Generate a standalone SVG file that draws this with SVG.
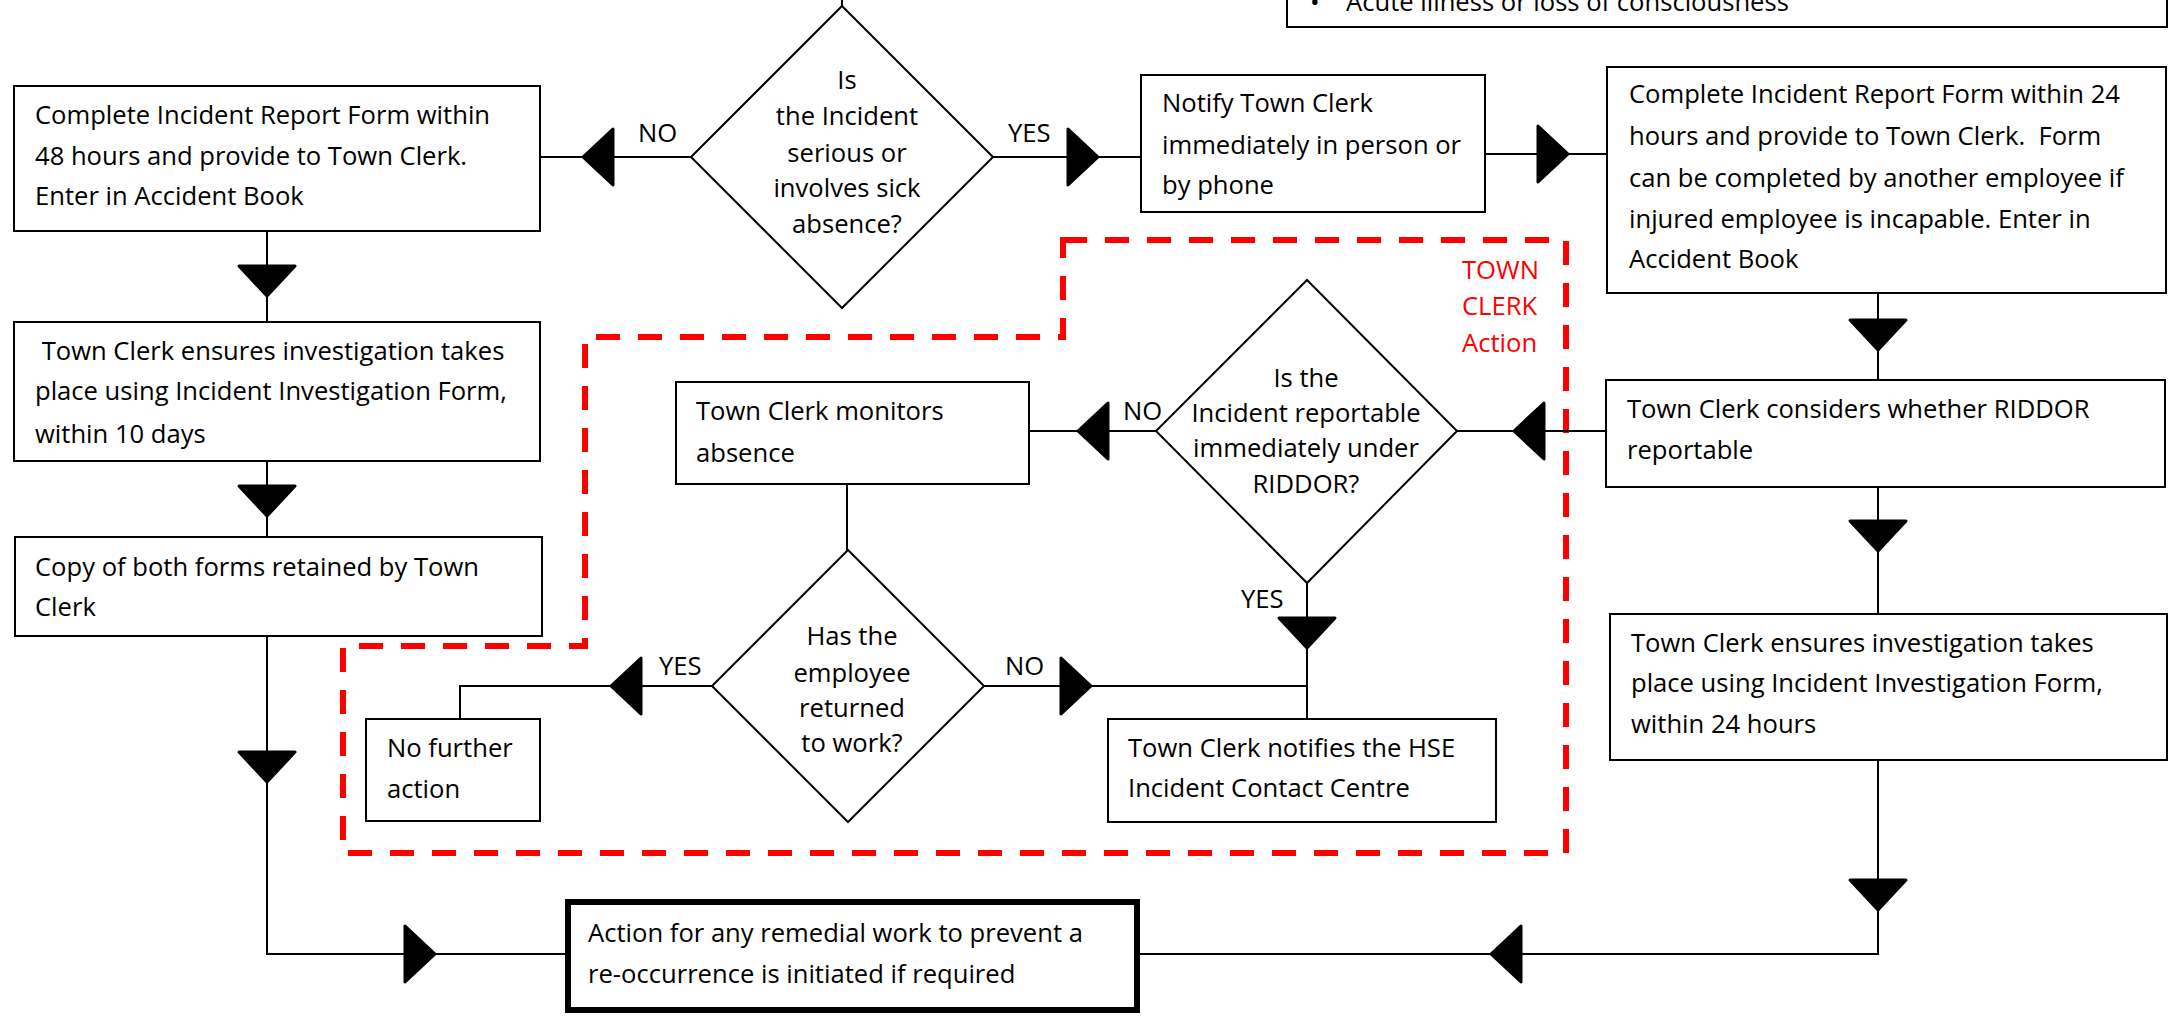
<svg xmlns="http://www.w3.org/2000/svg" xmlns:xlink="http://www.w3.org/1999/xlink" width="2179" height="1018" viewBox="0 0 2179 1018">
<style>
  .box { fill: #fff; stroke: #000; stroke-width: 2; }
  .dia { fill: #fff; stroke: #000; stroke-width: 2; }
  .thick { fill: #fff; stroke: #000; stroke-width: 6; }
  .line { fill: none; stroke: #000; stroke-width: 2; }
  .dash { fill: none; stroke: #FF0000; stroke-width: 6; stroke-dasharray: 24 18; }
  text { font-family: "Open Sans", "Noto Sans", "Liberation Sans", sans-serif; font-size: 25.6px; fill: #000; white-space: pre; }
  .c { text-anchor: middle; }
  .red { fill: #FF0000; }
</style>
<defs>
  <path id="ah" d="M0,0 L-30,-28 L-30,28 Z" fill="#000" stroke="#000" stroke-width="3" stroke-linejoin="round"/>
</defs>
<rect width="2179" height="1018" fill="#fff"/>

<g id="region">
  <path class="dash" d="M1063,240 H1566 V853 H343 V646 H585 V337 H1063 Z"/>
  <text class="red" x="1462" y="279">TOWN</text>
  <text class="red" x="1462" y="315">CLERK</text>
  <text class="red" x="1462" y="352">Action</text>
</g>

<g id="connectors">
  <path class="line" d="M842,0 V7"/>
  <path class="line" d="M691,157 H541"/>
  <path class="line" d="M993,157 H1141"/>
  <path class="line" d="M1485,154 H1607"/>
  <path class="line" d="M267,231 V322"/>
  <path class="line" d="M267,461 V537"/>
  <path class="line" d="M267,636 V954 H565"/>
  <path class="line" d="M1878,293 V380"/>
  <path class="line" d="M1878,487 V614"/>
  <path class="line" d="M1878,760 V954 H1140"/>
  <path class="line" d="M1606,431 H1457"/>
  <path class="line" d="M1156,431 H1029"/>
  <path class="line" d="M847,484 V550"/>
  <path class="line" d="M712,686 H460 V719"/>
  <path class="line" d="M984,686 H1307"/>
  <path class="line" d="M1307,583 V719"/>
  <use xlink:href="#ah" transform="translate(583,157) rotate(180)"/>
  <use xlink:href="#ah" transform="translate(1098,157)"/>
  <use xlink:href="#ah" transform="translate(1568,154)"/>
  <use xlink:href="#ah" transform="translate(1878,350) rotate(90)"/>
  <use xlink:href="#ah" transform="translate(1878,551) rotate(90)"/>
  <use xlink:href="#ah" transform="translate(1878,910) rotate(90)"/>
  <use xlink:href="#ah" transform="translate(1491,954) rotate(180)"/>
  <use xlink:href="#ah" transform="translate(1514,431) rotate(180)"/>
  <use xlink:href="#ah" transform="translate(1078,431) rotate(180)"/>
  <use xlink:href="#ah" transform="translate(1307,648) rotate(90)"/>
  <use xlink:href="#ah" transform="translate(1091,686)"/>
  <use xlink:href="#ah" transform="translate(611,686) rotate(180)"/>
  <use xlink:href="#ah" transform="translate(267,296) rotate(90)"/>
  <use xlink:href="#ah" transform="translate(267,516) rotate(90)"/>
  <use xlink:href="#ah" transform="translate(267,782) rotate(90)"/>
  <use xlink:href="#ah" transform="translate(435,954)"/>
  <text x="638" y="142">NO</text>
  <text x="1008" y="142">YES</text>
  <text x="1123" y="420">NO</text>
  <text x="1241" y="608">YES</text>
  <text x="659" y="675">YES</text>
  <text x="1005" y="675">NO</text>
</g>

<g id="n-bullet">
  <rect class="box" x="1287" y="-20" width="880" height="47"/>
  <text x="1310" y="11">•</text>
  <text x="1346" y="11">Acute illness or loss of consciousness</text>
</g>

<g id="n-report48">
  <rect class="box" x="14" y="86" width="526" height="145"/>
  <text x="35" y="124">Complete Incident Report Form within</text>
  <text x="35" y="165">48 hours and provide to Town Clerk.</text>
  <text x="35" y="205">Enter in Accident Book</text>
</g>

<g id="n-serious">
  <polygon class="dia" points="842,6 993,157 842,308 691,157"/>
  <text class="c" x="847" y="89">Is</text>
  <text class="c" x="847" y="125">the Incident</text>
  <text class="c" x="847" y="162">serious or</text>
  <text class="c" x="847" y="197">involves sick</text>
  <text class="c" x="847" y="233">absence?</text>
</g>

<g id="n-notify">
  <rect class="box" x="1141" y="75" width="344" height="137"/>
  <text x="1162" y="112">Notify Town Clerk</text>
  <text x="1162" y="154">immediately in person or</text>
  <text x="1162" y="194">by phone</text>
</g>

<g id="n-report24">
  <rect class="box" x="1607" y="67" width="559" height="226"/>
  <text x="1629" y="103">Complete Incident Report Form within 24</text>
  <text x="1629" y="145">hours and provide to Town Clerk.  Form</text>
  <text x="1629" y="187">can be completed by another employee if</text>
  <text x="1629" y="228">injured employee is incapable. Enter in</text>
  <text x="1629" y="268">Accident Book</text>
</g>

<g id="n-invest10">
  <rect class="box" x="14" y="322" width="526" height="139"/>
  <text x="35" y="360"> Town Clerk ensures investigation takes</text>
  <text x="35" y="400">place using Incident Investigation Form,</text>
  <text x="35" y="443">within 10 days</text>
</g>

<g id="n-copy">
  <rect class="box" x="15" y="537" width="527" height="99"/>
  <text x="35" y="576">Copy of both forms retained by Town</text>
  <text x="35" y="616">Clerk</text>
</g>

<g id="n-considers">
  <rect class="box" x="1606" y="380" width="559" height="107"/>
  <text x="1627" y="418">Town Clerk considers whether RIDDOR</text>
  <text x="1627" y="459">reportable</text>
</g>

<g id="n-riddor">
  <polygon class="dia" points="1307,280 1457,431 1307,583 1156,431"/>
  <text class="c" x="1306" y="387">Is the</text>
  <text class="c" x="1306" y="422">Incident reportable</text>
  <text class="c" x="1306" y="457">immediately under</text>
  <text class="c" x="1306" y="493">RIDDOR?</text>
</g>

<g id="n-monitors">
  <rect class="box" x="676" y="382" width="353" height="102"/>
  <text x="696" y="420">Town Clerk monitors</text>
  <text x="696" y="462">absence</text>
</g>

<g id="n-returned">
  <polygon class="dia" points="848,550 984,686 848,822 712,686"/>
  <text class="c" x="852" y="645">Has the</text>
  <text class="c" x="852" y="682">employee</text>
  <text class="c" x="852" y="717">returned</text>
  <text class="c" x="852" y="752">to work?</text>
</g>

<g id="n-nofurther">
  <rect class="box" x="366" y="719" width="174" height="102"/>
  <text x="387" y="757">No further</text>
  <text x="387" y="798">action</text>
</g>

<g id="n-hse">
  <rect class="box" x="1108" y="719" width="388" height="103"/>
  <text x="1128" y="757">Town Clerk notifies the HSE</text>
  <text x="1128" y="797">Incident Contact Centre</text>
</g>

<g id="n-invest24">
  <rect class="box" x="1610" y="614" width="557" height="146"/>
  <text x="1631" y="652">Town Clerk ensures investigation takes</text>
  <text x="1631" y="692">place using Incident Investigation Form,</text>
  <text x="1631" y="733">within 24 hours</text>
</g>

<g id="n-remedial">
  <rect class="thick" x="568" y="902" width="569" height="108"/>
  <text x="588" y="942">Action for any remedial work to prevent a</text>
  <text x="588" y="983">re-occurrence is initiated if required</text>
</g>
</svg>
